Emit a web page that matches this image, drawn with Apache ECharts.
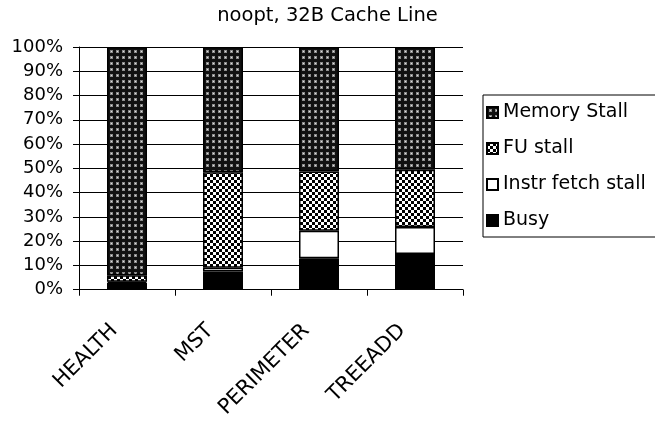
<!DOCTYPE html>
<html>
<head>
<meta charset="utf-8">
<script src="https://cdn.jsdelivr.net/npm/echarts@6/dist/echarts.min.js"></script>
<style>
  html, body { margin: 0; padding: 0; background: #fff; }
  #chart { width: 655px; height: 421px; }
</style>
</head>
<body>
<div id="chart"></div>
<script>
// Benchmarks and their cycle breakdown (percent of total cycles)
const categories = ['HEALTH', 'MST', 'PERIMETER', 'TREEADD'];
const busy       = [2.8, 7.5, 13.0, 14.7];
const instrFetch = [0.5, 1.6, 11.3, 11.1];
const fuStall    = [2.7, 39.3, 24.4, 23.6];
const memStall   = [94.0, 51.6, 51.3, 50.6];
const legendOrder = ['Memory Stall', 'FU stall', 'Instr fetch stall', 'Busy'];

const FONT = 'DejaVu Sans';

// Dotted dark fill: black ground with light dots
function dotPattern() {
  const c = document.createElement('canvas');
  c.width = 6; c.height = 6;
  const g = c.getContext('2d');
  g.fillStyle = '#111';
  g.fillRect(0, 0, 6, 6);
  g.fillStyle = '#8a8a8a';
  g.fillRect(2, 2, 3, 3);
  g.fillStyle = '#e0e0e0';
  g.fillRect(3, 3, 1, 1);
  return c;
}

// Fine black/white checkerboard fill
function checkerPattern() {
  const c = document.createElement('canvas');
  c.width = 6; c.height = 6;
  const g = c.getContext('2d');
  g.fillStyle = '#fff';
  g.fillRect(0, 0, 6, 6);
  g.fillStyle = '#000';
  g.fillRect(0, 0, 3, 3);
  g.fillRect(3, 3, 3, 3);
  return c;
}

const fills = {
  'Busy': '#000',
  'Instr fetch stall': '#fff',
  'FU stall': { image: checkerPattern(), repeat: 'repeat' },
  'Memory Stall': { image: dotPattern(), repeat: 'repeat' }
};

function bar(name, values) {
  return {
    name: name,
    type: 'bar',
    stack: 'total',
    barWidth: 40,
    data: values,
    itemStyle: { color: fills[name], borderColor: '#000', borderWidth: 1.5 },
    emphasis: { disabled: true }
  };
}

const chart = echarts.init(document.getElementById('chart'), null, { renderer: 'canvas' });
chart.setOption({
  animation: false,
  backgroundColor: '#fff',
  title: {
    text: 'noopt, 32B Cache Line',
    left: 'center',
    top: 1,
    textStyle: { fontFamily: FONT, fontSize: 19.5, fontWeight: 'normal', color: '#000' }
  },
  legend: {
    data: legendOrder,
    orient: 'vertical',
    icon: 'rect',
    left: 483,
    top: 95,
    padding: [8, 12, 7, 3],
    itemGap: 17,
    itemWidth: 11,
    itemHeight: 11,
    borderColor: '#000',
    borderWidth: 1,
    textStyle: { fontFamily: FONT, fontSize: 19, color: '#000' }
  },
  grid: { left: 79, right: 192, top: 47, bottom: 131, containLabel: false },
  xAxis: {
    type: 'category',
    data: categories,
    boundaryGap: true,
    axisLine: { lineStyle: { color: '#000', width: 1 } },
    axisTick: { show: true, length: 6, inside: false, lineStyle: { color: '#000' } },
    axisLabel: {
      rotate: 45,
      margin: 25,
      padding: [0, 18, 0, 0],
      fontFamily: FONT,
      fontSize: 21,
      color: '#000'
    }
  },
  yAxis: {
    type: 'value',
    min: 0,
    max: 100,
    interval: 10,
    axisLine: { show: true, lineStyle: { color: '#000', width: 1 } },
    axisTick: { show: true, length: 6, lineStyle: { color: '#000' } },
    splitLine: { show: true, lineStyle: { color: '#000', width: 1 } },
    axisLabel: {
      formatter: '{value}%',
      margin: 16,
      fontFamily: FONT,
      fontSize: 18,
      color: '#000'
    }
  },
  series: [
    bar('Busy', busy),
    bar('Instr fetch stall', instrFetch),
    bar('FU stall', fuStall),
    bar('Memory Stall', memStall)
  ]
});
</script>
</body>
</html>
